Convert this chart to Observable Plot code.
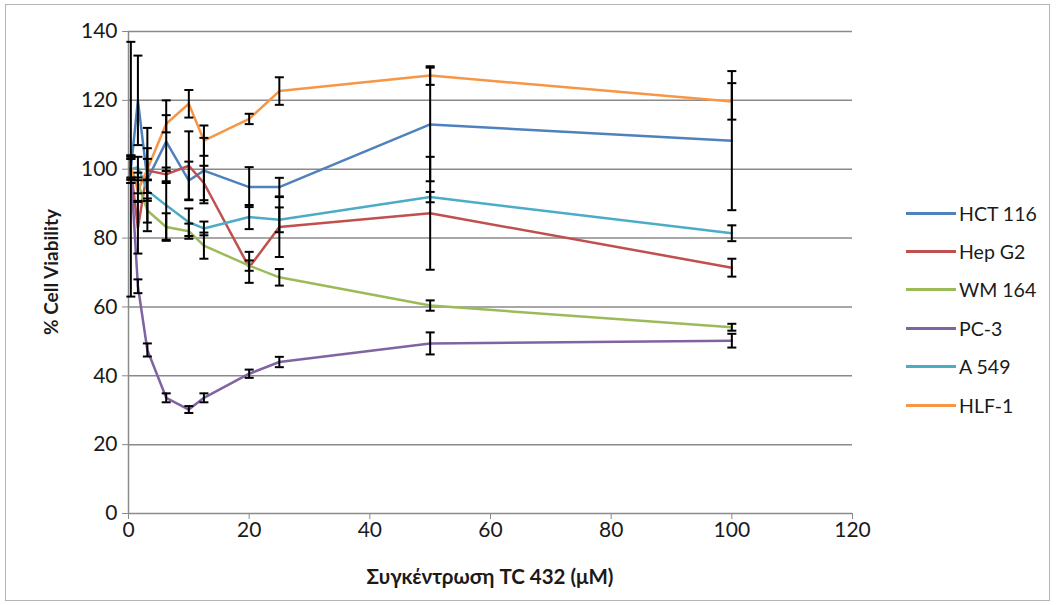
<!DOCTYPE html>
<html><head><meta charset="utf-8">
<script src="https://cdn.jsdelivr.net/npm/d3@7"></script>
<script src="https://cdn.jsdelivr.net/npm/@observablehq/plot@0.6"></script>
<style>
body{margin:0;background:#fff;}
#wrap{position:relative;width:1056px;height:605px;overflow:hidden;font-family:Lato,"Noto Sans",sans-serif;color:#1a1a1a;}
#frame{position:absolute;left:5px;top:4px;width:1043px;height:595px;border:1px solid #b4b4b4;pointer-events:none;}
#chart{position:absolute;left:0;top:0;}
#chart svg text{fill:#1a1a1a;}
.ytitle{position:absolute;left:50px;top:272px;transform:translate(-50%,-50%) rotate(-90deg);font-weight:bold;font-size:19px;white-space:nowrap;}
.xtitle{position:absolute;left:490px;top:576px;transform:translate(-50%,-50%);font-weight:bold;font-size:20.5px;white-space:nowrap;}
.leg{position:absolute;left:906px;height:24px;display:flex;align-items:center;font-size:19.5px;white-space:nowrap;transform:translateY(-50%);}
.leg .sw{width:50px;height:3px;margin-right:3px;}
</style>
</head><body>
<div id="wrap">
  <div id="chart"></div>
  <div class="ytitle">% Cell Viability</div>
  <div class="xtitle">Συγκέντρωση TC 432 (μM)</div>
  <div id="legend"></div>
  <div id="frame"></div>
</div>
<script>
// concentrations (µM)
const conc = [0.39, 1.56, 3.125, 6.25, 10, 12.5, 20, 25, 50, 100];
const seriesNames = ["HCT 116", "Hep G2", "WM 164", "PC-3", "A 549", "HLF-1"];
const seriesColors = ["#4F81BD", "#C0504D", "#9BBB59", "#8064A2", "#4BACC6", "#F79646"];

const hct116    = [100, 120, 97, 108, 96.7, 99.6, 94.8, 94.8, 113, 108.3];
const hct116Err = [37, 13, 15, 12, 5.5, 9.5, 5.8, 2.7, 16.5, 20.2];
const hepG2     = [100, 83, 99.6, 98.5, 101, 96, 71.5, 83.2, 87.2, 71.4];
const hepG2Err  = [4, 7.5, 6.5, 2, 10, 5, 4.5, 8.7, 16.4, 2.6];
const wm164     = [100, 96, 88, 83.2, 82, 77.8, 72, 68.6, 60.4, 54.1];
const wm164Err  = [3, 3, 3.5, 4, 2.2, 3.8, 1.5, 2.4, 1.5, 1];
const pc3       = [100, 66, 47.5, 33.6, 30.2, 33.6, 40.6, 44, 49.4, 50.2];
const pc3Err    = [4, 2, 1.9, 1.3, 1, 1.3, 1.2, 1.5, 3.2, 2];
const a549      = [100, 100.6, 93.8, 89.5, 84.6, 82.8, 86.1, 85.3, 91.9, 81.4];
const a549Err   = [3, 3, 3, 10, 4, 2, 3.5, 3.6, 1.5, 2.3];
const hlf1      = [100.6, 93.8, 100, 113.2, 119, 108.3, 114.6, 122.7, 127.2, 119.7];
const hlf1Err   = [3, 3, 3, 2.5, 4, 4.4, 1.5, 4, 2.7, 5.3];

const xTicks = [0, 20, 40, 60, 80, 100, 120];
const yTicks = [0, 20, 40, 60, 80, 100, 120, 140];

const values = [hct116, hepG2, wm164, pc3, a549, hlf1];
const errors = [hct116Err, hepG2Err, wm164Err, pc3Err, a549Err, hlf1Err];
const rows = seriesNames.flatMap((s, i) => conc.map((x, j) => ({series: s, x, y: values[i][j], e: errors[i][j]})));

const cap = {draw(ctx, size) { const r = Math.sqrt(size / Math.PI); ctx.moveTo(-r, 0); ctx.lineTo(r, 0); }};

const chart = Plot.plot({
  width: 1056, height: 605,
  marginLeft: 128, marginRight: 204, marginTop: 31, marginBottom: 92,
  style: {fontFamily: 'Lato, "Noto Sans", sans-serif', fontSize: "21px", color: "#8a8a8a", background: "transparent"},
  x: {domain: [0, 120], ticks: xTicks, tickSize: 6, tickPadding: 3, label: null},
  y: {domain: [0, 140], ticks: yTicks, tickSize: 6, tickPadding: 5, label: null},
  color: {domain: seriesNames, range: seriesColors},
  marks: [
    Plot.ruleY(yTicks, {stroke: "#8a8a8a", strokeWidth: 1.5}),
    Plot.ruleX([0], {stroke: "#8a8a8a", strokeWidth: 1.5}),
    Plot.line(rows, {x: "x", y: "y", z: "series", stroke: "series", strokeWidth: 2.5}),
    Plot.ruleX(rows, {x: "x", y1: d => d.y - d.e, y2: d => d.y + d.e, stroke: "#000", strokeWidth: 2}),
    Plot.dot(rows, {x: "x", y: d => d.y - d.e, symbol: cap, r: 4.5, stroke: "#000", strokeWidth: 2}),
    Plot.dot(rows, {x: "x", y: d => d.y + d.e, symbol: cap, r: 4.5, stroke: "#000", strokeWidth: 2})
  ]
});
document.getElementById("chart").appendChild(chart);

const legend = document.getElementById("legend");
const legTops = seriesNames.map((s, i) => 213 + i * 38.4);
seriesNames.forEach((s, i) => {
  const d = document.createElement("div");
  d.className = "leg";
  d.style.top = legTops[i] + "px";
  d.innerHTML = `<span class="sw" style="background:${seriesColors[i]}"></span><span>${s}</span>`;
  legend.appendChild(d);
});
</script>
</body></html>
